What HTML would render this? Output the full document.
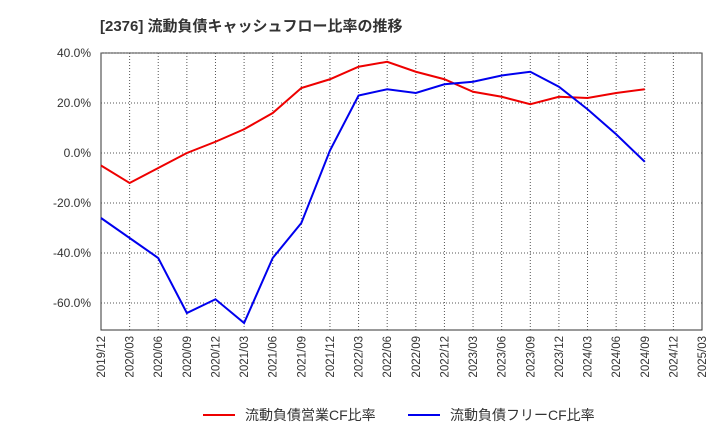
<!DOCTYPE html>
<html><head><meta charset="utf-8"><style>
body{margin:0;background:#fff;font-family:"Liberation Sans","Noto Sans CJK JP",sans-serif;}
svg text{font-family:"Liberation Sans","Noto Sans CJK JP",sans-serif;}
</style></head><body>
<svg id="c" width="720" height="440" xmlns="http://www.w3.org/2000/svg">
<text x="100" y="31" font-size="15" font-weight="bold" fill="#333">[2376]  流動負債キャッシュフロー比率の推移</text>
<rect x="101" y="53" width="601" height="277" fill="none" stroke="#333"/>
<g id="grid"></g><g id="yt"></g><g id="xt"></g><g id="series"></g>
<g>
<line x1="203" y1="415" x2="235" y2="415" stroke="#e00" stroke-width="2"/>
<text x="245" y="420" font-size="14" fill="#333">流動負債営業CF比率</text>
<line x1="408" y1="415" x2="440" y2="415" stroke="#00e" stroke-width="2"/>
<text x="450" y="420" font-size="14" fill="#333">流動負債フリーCF比率</text>
</g>
</svg>
<script>
const xLabels=["2019/12","2020/03","2020/06","2020/09","2020/12","2021/03","2021/06","2021/09","2021/12","2022/03","2022/06","2022/09","2022/12","2023/03","2023/06","2023/09","2023/12","2024/03","2024/06","2024/09","2024/12","2025/03"];
const yTicks=[40,20,0,-20,-40,-60];
const opCF=[-5,-12,-6,0,4.5,9.5,16,26,29.5,34.5,36.5,32.5,29.5,24.5,22.5,19.5,22.5,22,24,25.5];
const freeCF=[-26,-34,-42,-64,-58.5,-68,-42,-28,1,23,25.5,24,27.5,28.5,31,32.5,26.5,17.5,7.5,-3.5];
const NS="http://www.w3.org/2000/svg";
const X=i=>101+i*(601/21), Y=v=>153-v*2.5;
function mk(t,a,p){const e=document.createElementNS(NS,t);for(const k in a)e.setAttribute(k,a[k]);p.appendChild(e);return e;}
const g=document.getElementById('grid'),yt=document.getElementById('yt'),xt=document.getElementById('xt'),s=document.getElementById('series');
yTicks.forEach(v=>{
 const l=mk('line',{x1:101,x2:702,y1:Y(v),y2:Y(v),stroke:'#555','stroke-dasharray':'1,2','stroke-width':1},g);
 
 
 const t=mk('text',{x:91,y:Y(v)+4,'text-anchor':'end','font-size':12,fill:'#333'},yt);
 t.textContent=v.toFixed(1)+'%';
 
 
});
xLabels.forEach((lab,i)=>{
 if(i>0&&i<21){const l=mk('line',{x1:X(i),x2:X(i),y1:53,y2:330,stroke:'#555','stroke-dasharray':'1,2','stroke-width':1},g);
 
 }
 const t=mk('text',{x:0,y:0,'text-anchor':'end','font-size':11.5,fill:'#333',transform:`translate(${X(i)+4},336) rotate(-90)`},xt);
 t.textContent=lab;
 
 
});
function line(d,c,n){const p=mk('polyline',{points:d.map((v,i)=>X(i)+','+Y(v)).join(' '),fill:'none',stroke:c,'stroke-width':2},s);
 
 }
line(opCF,'#e00','series-operating-cf');
line(freeCF,'#00e','series-free-cf');
</script>
</body></html>
